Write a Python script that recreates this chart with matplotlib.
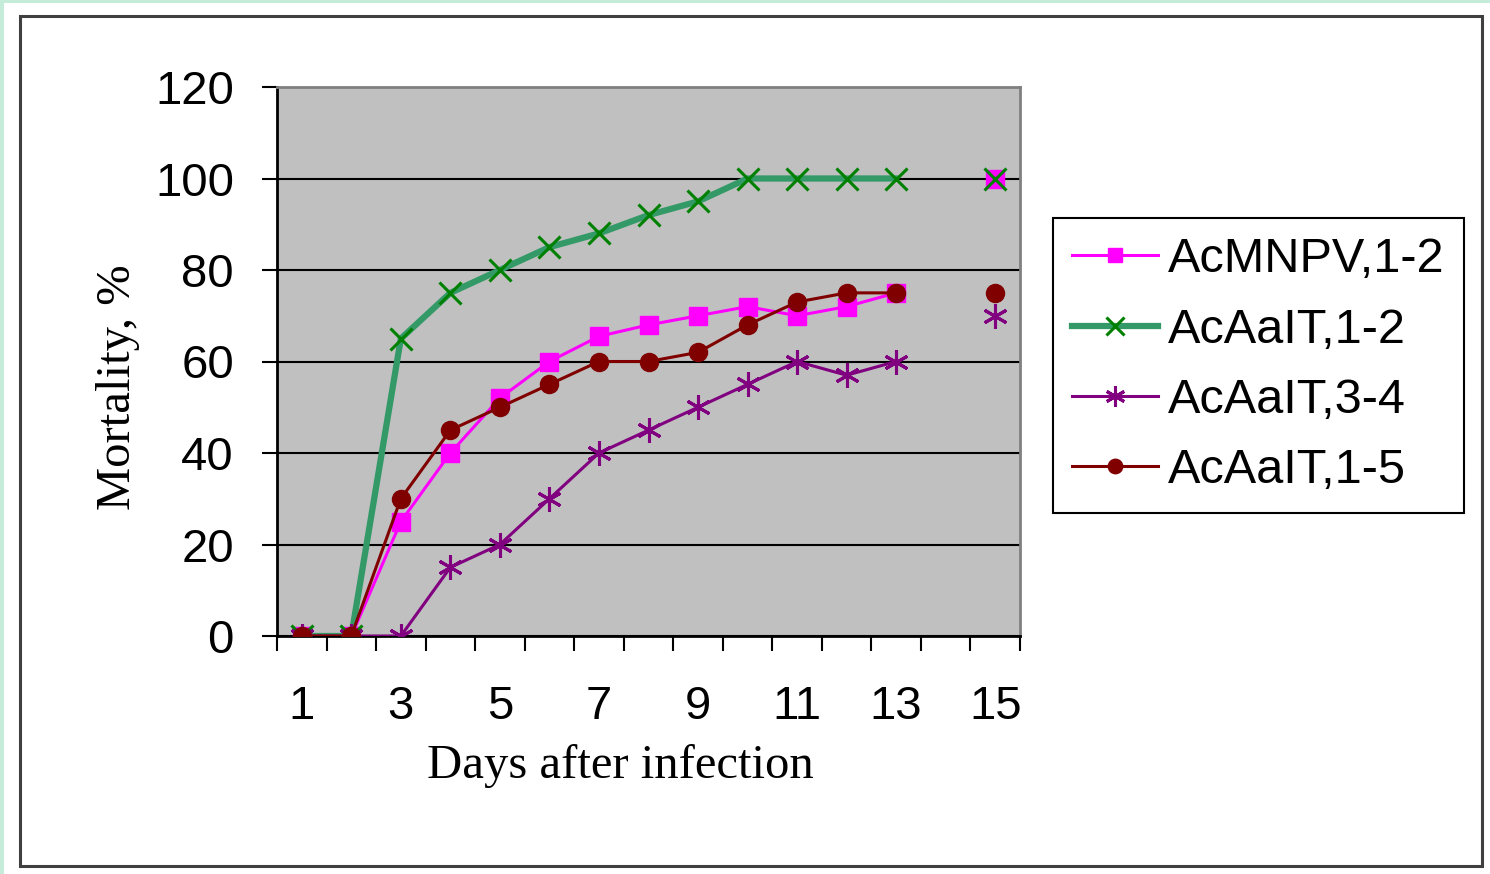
import numpy as np
import matplotlib
matplotlib.use("Agg")
import matplotlib.pyplot as plt
from matplotlib.patches import Rectangle

# days 1..15, no readings on day 14 (NaN breaks the line)
days = np.arange(1, 16)
nan = np.nan
acmnpv_12 = [0, 0, 25, 40, 52, 60, 65.5, 68, 70, 72, 70, 72, 75, nan, 100]
acaait_12 = [0, 0, 65, 75, 80, 85, 88, 92, 95, 100, 100, 100, 100, nan, 100]
acaait_34 = [0, 0, 0, 15, 20, 30, 40, 45, 50, 55, 60, 57, 60, nan, 70]
acaait_15 = [0, 0, 30, 45, 50, 55, 60, 60, 62, 68, 73, 75, 75, nan, 75]
labels = ["AcMNPV,1-2", "AcAaIT,1-2", "AcAaIT,3-4", "AcAaIT,1-5"]

sans = "Liberation Sans"
serif = "Liberation Serif"

fig = plt.figure(figsize=(14.9, 8.74), dpi=100)
fig.patch.set_facecolor("white")

# thin tinted strips on the left/top edge and the black outer frame
fig.add_artist(Rectangle((0, 0), 4 / 1490, 1, transform=fig.transFigure,
                         color="#c4ecd9", lw=0, zorder=0))
fig.add_artist(Rectangle((0, 1 - 3 / 874), 1, 3 / 874, transform=fig.transFigure,
                         color="#c4ecd9", lw=0, zorder=0))
fig.add_artist(Rectangle((20 / 1490, 8 / 874), 1462 / 1490, 850 / 874,
                         transform=fig.transFigure, fill=False,
                         ec="#404040", lw=2.2, zorder=1))

ax = fig.add_axes([277 / 1490, 1 - 636 / 874, 743 / 1490, 549 / 874])
ax.set_facecolor("#c0c0c0")

ax.set_xlim(0.5, 15.5)
ax.set_ylim(0, 120)
ax.set_yticks(range(0, 121, 20))
ax.yaxis.grid(True, color="black", lw=1.5)
ax.set_axisbelow(True)

ax.plot(days, acmnpv_12, "-s", color="#ff00ff", lw=2.2, ms=13, mec="#ff00ff",
        label=labels[0], zorder=3)
ax.plot(days, acaait_12, "-x", color="#339966", lw=4.5, ms=16, mec="#008000",
        mew=2.2, label=labels[1], zorder=3)
ax.plot(days, acaait_34, "-", marker=(6, 2, 0), color="#800080", lw=2.2, ms=18,
        mew=2.2, label=labels[2], zorder=3)
ax.plot(days, acaait_15, "-o", color="#800000", lw=2.2, ms=13,
        label=labels[3], zorder=3)

# labels on odd days, tick marks between categories
ax.set_xticks(np.arange(1, 16, 2))
ax.set_xticklabels([str(d) for d in range(1, 16, 2)])
ax.set_xticks(np.arange(0.5, 15.6, 1), minor=True)
ax.tick_params(axis="x", which="major", length=0, pad=35)
ax.tick_params(axis="x", which="minor", length=11, width=1.5, direction="out")
ax.tick_params(axis="y", length=11, width=1.5, direction="out", pad=20)
for lab in ax.get_xticklabels() + ax.get_yticklabels():
    lab.set_fontfamily(sans)
    lab.set_fontsize(34)

for side in ("top", "right"):
    ax.spines[side].set_color("#808080")
    ax.spines[side].set_linewidth(2)
for side in ("left", "bottom"):
    ax.spines[side].set_color("black")
    ax.spines[side].set_linewidth(2)

ax.set_xlabel("Days after infection", fontfamily=serif, fontsize=35)
ax.xaxis.set_label_coords((620 - 277) / 743, (636 - 744) / 549)
ax.set_ylabel("Mortality, %", fontfamily=serif, fontsize=35)
ax.yaxis.set_label_coords((140 - 277) / 743, (636 - 387) / 549)

leg = fig.legend(loc="upper left", bbox_to_anchor=(1053 / 1490, 1 - 218 / 874),
                 prop={"family": sans, "size": 35}, frameon=True, fancybox=False,
                 edgecolor="black", framealpha=1, borderpad=0.4,
                 handlelength=1.75, handletextpad=0.22, labelspacing=0.52,
                 borderaxespad=0, markerscale=0.8)
leg.get_frame().set_linewidth(1.5)

fig.savefig("out.png", dpi=100)
